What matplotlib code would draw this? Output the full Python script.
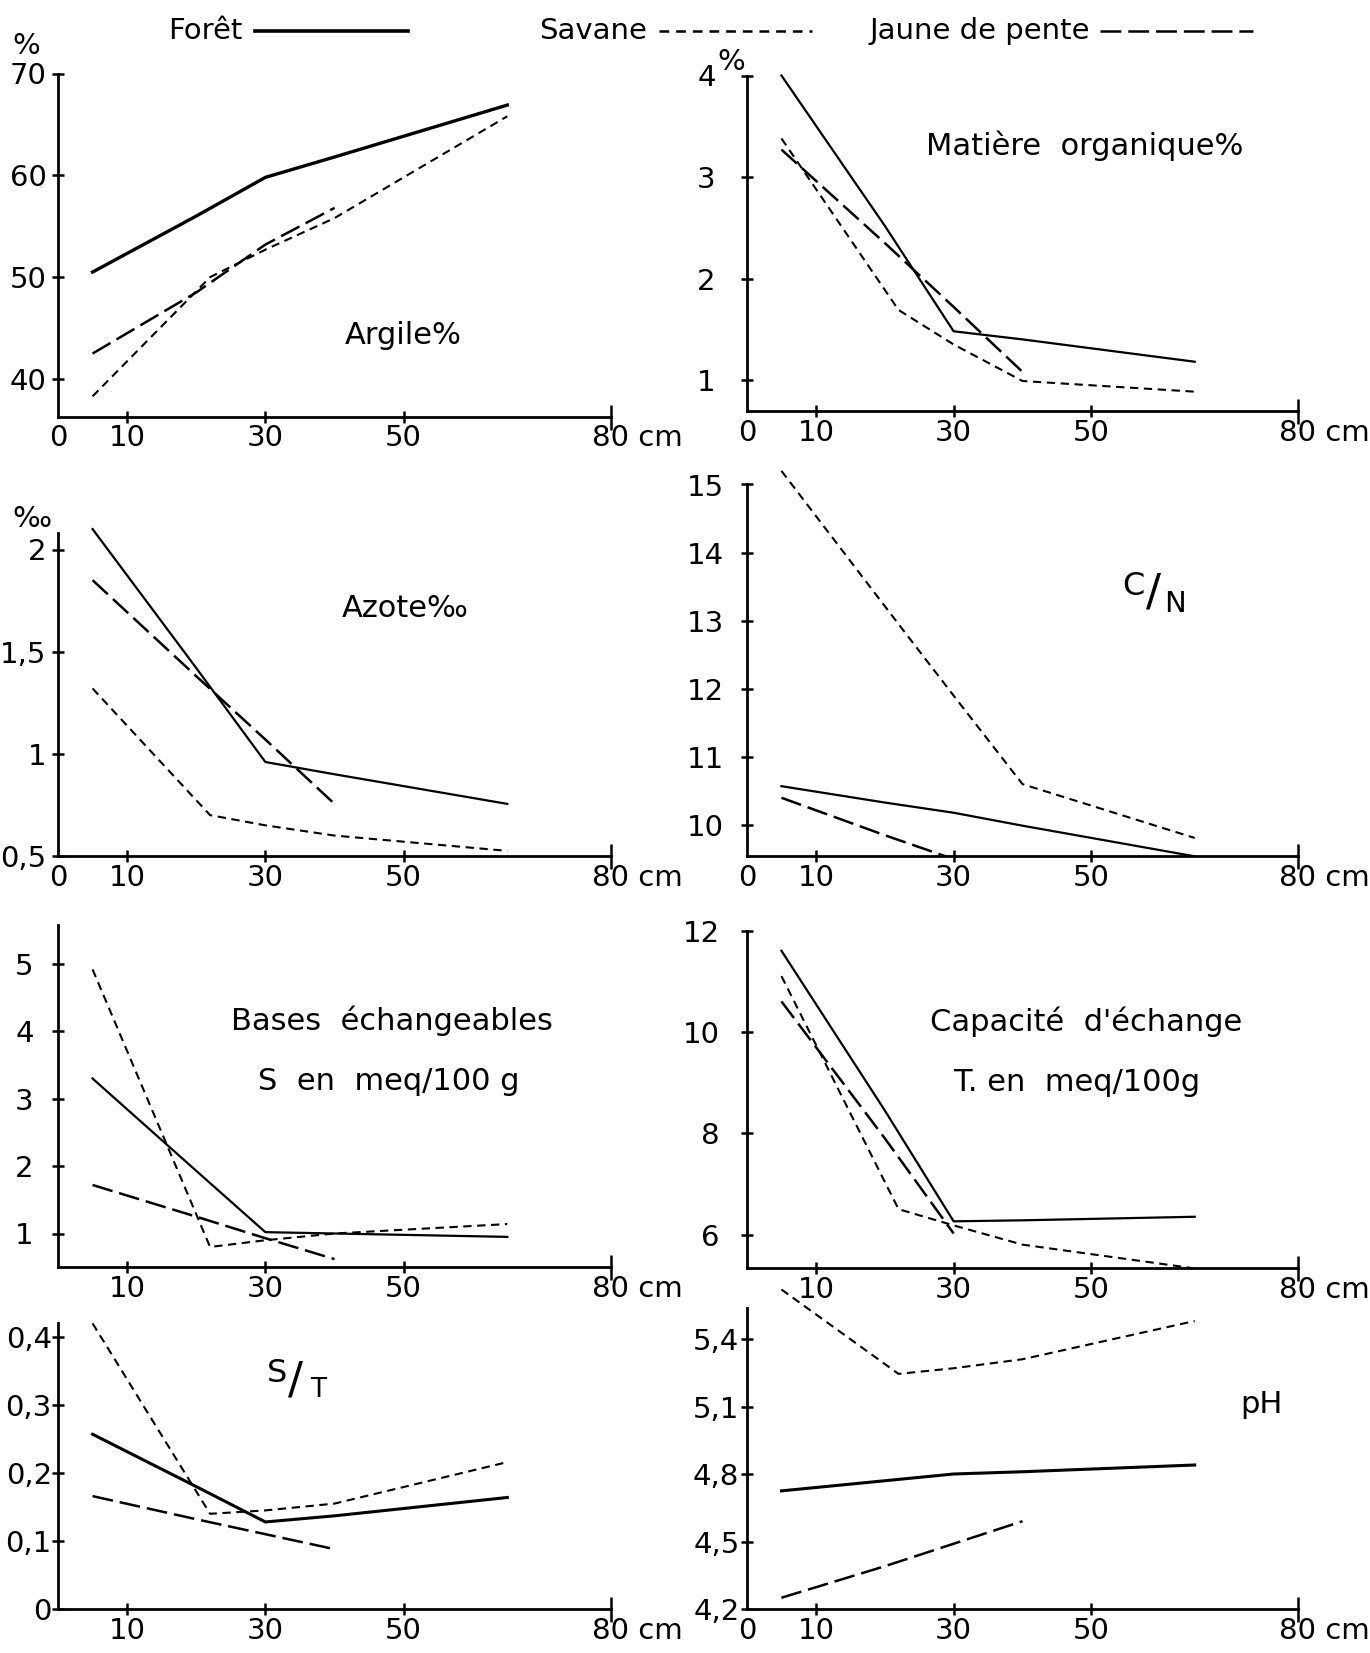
import numpy as np
import matplotlib
matplotlib.use('Agg')
import matplotlib.pyplot as plt
from matplotlib.lines import Line2D
from matplotlib.transforms import ScaledTranslation

plt.rcParams['font.family'] = ['DejaVu Sans']
plt.rcParams['lines.scale_dashes'] = False

W, H = 1370, 1653

# profondeurs des prélèvements (cm) pour chaque profil
foret_depth = [5, 20, 30, 40, 65]
savane_depth = [5, 22, 30, 40, 65]
jaune_depth = [5, 20, 30, 40]

argile_foret = [50.5, 56.0, 59.8, 61.8, 66.9]
argile_savane = [38.3, 50.0, 52.7, 55.8, 65.8]
argile_jaune = [42.5, 48.5, 53.2, 56.8]

mo_foret = [4.0, 2.52, 1.48, 1.40, 1.18]
mo_savane = [3.38, 1.69, 1.35, 0.99, 0.885]
mo_jaune = [3.27, 2.35, 1.72, 1.08]

azote_foret = [2.10, 1.42, 0.96, 0.90, 0.755]
azote_savane = [1.32, 0.70, 0.65, 0.60, 0.525]
azote_jaune = [1.85, 1.38, 1.07, 0.755]

cn_foret = [10.57, 10.33, 10.18, 9.99, 9.54]
cn_savane = [15.2, 12.95, 11.9, 10.6, 9.81]
cn_jaune = [10.4, 9.85, 9.5, np.nan]

s_foret = [3.30, 1.93, 1.02, 1.0, 0.95]
s_savane = [4.92, 0.80, 0.90, 1.0, 1.14]
s_jaune = [1.72, 1.25, 0.93, 0.62]

t_foret = [11.6, 8.45, 6.26, 6.28, 6.35]
t_savane = [11.1, 6.5, 6.18, 5.8, 5.33]
t_jaune = [10.6, 7.9, 6.02, np.nan]

st_foret = [0.257, 0.18, 0.128, 0.137, 0.164]
st_savane = [0.42, 0.14, 0.145, 0.155, 0.216]
st_jaune = [0.166, 0.132, 0.11, 0.088]

ph_foret = [4.725, 4.77, 4.80, 4.81, 4.84]
ph_savane = [5.62, 5.245, 5.27, 5.31, 5.48]
ph_jaune = [4.25, 4.39, 4.49, 4.59]

fig = plt.figure(figsize=(W / 100, H / 100), dpi=100)
L = (58, 611)
R = (747, 1298)
TS = 21   # taille des graduations
AS = 22   # taille des titres


def panel(xpx, ya, yb, lim, top, yticks, ylabels, ypad, zero=True):
    x0, x80 = xpx
    (va, pa), (vb, pb) = ya, yb
    lo, hi = lim
    k = (pb - pa) / (va - vb)
    ybot = pa + (va - lo) * k
    ytop = pa - (hi - va) * k
    ax = fig.add_axes([x0 / W, 1 - ybot / H, (x80 - x0) / W, (ybot - ytop) / H])
    ax.set_xlim(0, 80)
    ax.set_ylim(lo, hi)
    ax.patch.set_alpha(0)
    ax.spines['top'].set_visible(False)
    ax.spines['right'].set_visible(False)
    ax.spines['left'].set_bounds(lo, top)
    for s in ('left', 'bottom'):
        ax.spines[s].set_linewidth(2)
    if zero:
        ax.set_xticks([0, 10, 30, 50, 80], ['0', '10', '30', '50', '80 cm'])
    else:
        ax.set_xticks([10, 30, 50, 80], ['10', '30', '50', '80 cm'])
    ax.set_yticks(yticks, ylabels)
    ax.tick_params(direction='inout', length=9, width=1.8, labelsize=TS)
    ax.tick_params(axis='y', pad=ypad)
    ax.tick_params(axis='x', pad=1)
    ticks = ax.xaxis.get_major_ticks()
    ticks[-1].tick1line.set_markersize(18)
    if zero:
        ticks[0].tick1line.set_markersize(0)
    lab = ticks[-1].label1
    lab.set_ha('left')
    lab.set_transform(lab.get_transform() + ScaledTranslation(-0.19, 0, fig.dpi_scale_trans))
    return ax


def draw(ax, foret, savane, jaune, lwf=1.6):
    ax.plot(foret_depth, foret, color='k', lw=lwf)
    ax.plot(savane_depth, savane, color='k', lw=1.5, ls=(0, (6, 4)))
    ax.plot(jaune_depth, jaune, color='k', lw=1.8, ls=(0, (15, 5)))


# Argile
ax = panel(L, (70, 73.5), (40, 379), (36.3, 70.6), 70, [40, 50, 60, 70],
           ['40', '50', '60', '70'], 3.5)
draw(ax, argile_foret, argile_savane, argile_jaune, lwf=2.4)
ax.text(49.9, 44.3, 'Argile%', size=AS, ha='center', va='center')
fig.text(26 / W, 1 - 46 / H, '%', size=TS, ha='center', va='center')

# Matiere organique
ax = panel(R, (4, 75.5), (1, 380), (0.69, 4.05), 4, [1, 2, 3, 4],
           ['1', '2', '3', '4'], 18)
draw(ax, mo_foret, mo_savane, mo_jaune)
ax.text(49.1, 3.31, 'Matière  organique%', size=AS, ha='center', va='center')
fig.text(731 / W, 1 - 62 / H, '%', size=TS, ha='center', va='center')

# Azote
ax = panel(L, (2, 549.5), (0.5, 856), (0.5, 2.13), 2.08, [0.5, 1, 1.5, 2],
           ['0,5', '1', '1,5', '2'], 4)
draw(ax, azote_foret, azote_savane, azote_jaune)
ax.text(50.2, 1.71, 'Azote‰', size=AS, ha='center', va='center')
fig.text(32 / W, 1 - 519 / H, '‰', size=TS, ha='center', va='center')

# C/N
ax = panel(R, (15, 484.5), (10, 825), (9.54, 15.3), 15, [10, 11, 12, 13, 14, 15],
           ['10', '11', '12', '13', '14', '15'], 12)
draw(ax, cn_foret, cn_savane, cn_jaune)
ax.text(56.1, 13.5, 'C', size=23, ha='center', va='center')
ax.text(59.0, 13.4, '/', size=32, ha='center', va='center')
ax.text(62.2, 13.25, 'N', size=21, ha='center', va='center')

# Bases echangeables
ax = panel(L, (5, 964), (1, 1233.5), (0.5, 5.6), 5.58, [1, 2, 3, 4, 5],
           ['1', '2', '3', '4', '5'], 13, zero=False)
draw(ax, s_foret, s_savane, s_jaune)
ax.text(48.3, 4.16, 'Bases  échangeables', size=AS, ha='center', va='center')
ax.text(47.9, 3.25, 'S  en  meq/100 g', size=AS, ha='center', va='center')

# Capacite d'echange
ax = panel(R, (12, 930.5), (6, 1234.5), (5.34, 12.05), 12, [6, 8, 10, 12],
           ['6', '8', '10', '12'], 15, zero=False)
draw(ax, t_foret, t_savane, t_jaune)
ax.text(49.2, 10.2, 'Capacité  d\'échange', size=AS, ha='center', va='center')
ax.text(47.9, 9.0, 'T. en  meq/100g', size=AS, ha='center', va='center')

# S/T
ax = panel(L, (0.4, 1337), (0, 1609), (0, 0.425), 0.421, [0, 0.1, 0.2, 0.3, 0.4],
           ['0', '0,1', '0,2', '0,3', '0,4'], 0, zero=False)
draw(ax, st_foret, st_savane, st_jaune, lwf=2.2)
ax.text(31.7, 0.347, 'S', size=23, ha='center', va='center')
ax.text(34.4, 0.335, '/', size=32, ha='center', va='center')
ax.text(37.6, 0.322, 'T', size=19, ha='center', va='center')

# pH
ax = panel(R, (5.4, 1339), (4.2, 1609), (4.2, 5.65), 5.54, [4.2, 4.5, 4.8, 5.1, 5.4],
           ['4,2', '4,5', '4,8', '5,1', '5,4'], 1)
draw(ax, ph_foret, ph_savane, ph_jaune, lwf=2.2)
ax.text(74.7, 5.11, 'pH', size=AS, ha='center', va='center')

# legende
ly = 1 - 31 / H
fig.text(168 / W, ly, 'Forêt', size=21, va='center')
fig.add_artist(Line2D([255 / W, 408 / W], [ly, ly], color='k', lw=2.6))
fig.text(539 / W, ly, 'Savane', size=21, va='center')
fig.add_artist(Line2D([659 / W, 812 / W], [ly, ly], color='k', lw=1.8, ls=(0, (7, 5))))
fig.text(869 / W, ly, 'Jaune de pente', size=21, va='center')
fig.add_artist(Line2D([1100 / W, 1253 / W], [ly, ly], color='k', lw=1.8, ls=(0, (15, 5))))

fig.savefig('out.png', dpi=100)
